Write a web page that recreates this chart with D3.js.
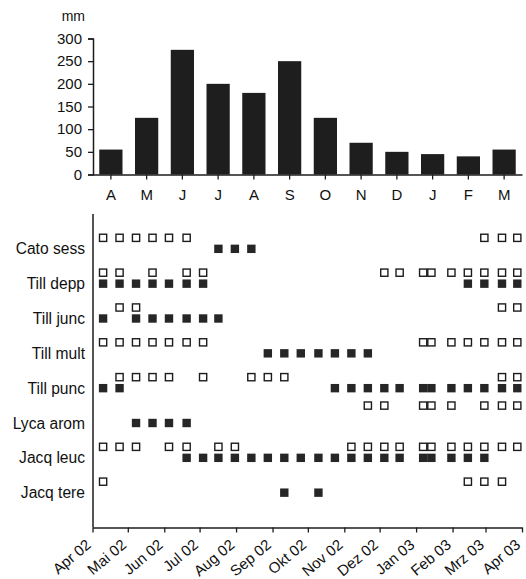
<!DOCTYPE html>
<html>
<head>
<meta charset="utf-8">
<script src="https://cdn.jsdelivr.net/npm/d3@7"></script>
<style>
  html, body { margin: 0; padding: 0; background: #fff; }
  svg { display: block; }
  text { font-family: "Liberation Sans", Arial, Helvetica, sans-serif; fill: #111; }
</style>
</head>
<body>
<svg id="chart" width="526" height="579"></svg>
<script>
// ---- Rainfall (top panel) ----
const rainMonths = ["A","M","J","J","A","S","O","N","D","J","F","M"];
const rainValues = [55, 125, 275, 200, 180, 250, 125, 70, 50, 45, 40, 55];
const rainTicks = [0, 50, 100, 150, 200, 250, 300];

// ---- Phenology (bottom panel) ----
const sampleDates = ["2002-04-10","2002-04-24","2002-05-08","2002-05-22","2002-06-05","2002-06-20",
  "2002-07-04","2002-07-17","2002-07-31","2002-08-14","2002-08-28","2002-09-11","2002-09-25",
  "2002-10-10","2002-10-24","2002-11-07","2002-11-21","2002-12-05","2002-12-18","2003-01-07",
  "2003-01-14","2003-01-31","2003-02-14","2003-02-28","2003-03-15","2003-03-28"];
const species = ["Cato sess","Till depp","Till junc","Till mult","Till punc","Lyca arom","Jacq leuc","Jacq tere"];
// indices into sampleDates
const openMarks = [
  [0,1,2,3,4,5,23,24,25],
  [0,1,3,5,6,17,18,19,20,21,22,23,24,25],
  [1,2,24,25],
  [0,1,2,3,4,5,6,19,20,21,22,23,24,25],
  [1,2,3,4,6,9,10,11,24,25],
  [],
  [0,1,2,4,5,7,8,15,16,17,18,19,20,21,22,23,24,25],
  [0,22,23,24]
];
const filledMarks = [
  [7,8,9],
  [0,1,2,3,4,5,6,22,23,24,25],
  [0,2,3,4,5,6,7],
  [10,11,12,13,14,15,16],
  [0,1,14,15,16,17,18,19,20,21,22,23,24,25],
  [2,3,4,5],
  [5,6,7,8,9,10,11,12,13,14,15,16,17,18,19,20,21,22,23],
  [11,13]
];
// extra open row drawn between Till punc and Lyca arom
const extraOpenSpecies = 4;
const extraOpenMarks = [16,17,19,20,21,23,24,25];
const monthTickLabels = ["Apr 02","Mai 02","Jun 02","Jul 02","Aug 02","Sep 02","Okt 02","Nov 02","Dez 02","Jan 03","Feb 03","Mrz 03","Apr 03"];

const svg = d3.select("#chart");
const ink = "#1c1c1c";

// ================= TOP PANEL =================
const xBand = d3.scaleBand().domain(d3.range(rainMonths.length)).range([93, 522])
  .paddingInner(0.35).paddingOuter(0.175);
const yRain = d3.scaleLinear().domain([0, 300]).range([174.5, 38.5]);

svg.append("g").selectAll("rect").data(rainValues).join("rect")
  .attr("x", (d, i) => xBand(i))
  .attr("width", xBand.bandwidth())
  .attr("y", d => yRain(d))
  .attr("height", d => yRain(0) - yRain(d))
  .attr("fill", "#1e1e1e");

const yAxisTop = svg.append("g").attr("transform", "translate(93,0)")
  .call(d3.axisLeft(yRain).tickValues(rainTicks).tickSize(5).tickPadding(6));
yAxisTop.select(".domain").attr("stroke", ink).attr("stroke-width", 1.5);
yAxisTop.selectAll(".tick line").attr("stroke", ink).attr("stroke-width", 1.3);
yAxisTop.selectAll(".tick text").attr("font-size", 15).attr("fill", "#111")
  .attr("font-family", '"Liberation Sans", Arial, sans-serif');

const xAxisTop = svg.append("g").attr("transform", "translate(0,174.5)")
  .call(d3.axisBottom(xBand).tickSize(5).tickSizeOuter(0).tickPadding(10).tickFormat(i => rainMonths[i]));
xAxisTop.select(".domain").attr("stroke", ink).attr("stroke-width", 1.5);
xAxisTop.selectAll(".tick line").attr("stroke", ink).attr("stroke-width", 1.3);
xAxisTop.selectAll(".tick text").attr("font-size", 15).attr("fill", "#111")
  .attr("font-family", '"Liberation Sans", Arial, sans-serif');

svg.append("text").attr("x", 85).attr("y", 21).attr("text-anchor", "end")
  .attr("font-size", 14).text("mm");

// ================= BOTTOM PANEL =================
const parse = d3.timeParse("%Y-%m-%d");
const xTime = d3.scaleTime().domain([new Date(2002, 3, 1), new Date(2003, 3, 1)]).range([92.5, 522]);
const yRow = d3.scaleLinear().domain([-1, 8]).range([214, 527.5]);
const openOffset = -0.316;
const sq = 7.2;

// y axis line
svg.append("line").attr("x1", 93).attr("x2", 93).attr("y1", yRow(-1)).attr("y2", yRow(8))
  .attr("stroke", ink).attr("stroke-width", 1.5);

// species labels
svg.append("g").selectAll("text").data(species).join("text")
  .attr("x", 85).attr("y", (d, i) => yRow(i)).attr("dy", "0.36em")
  .attr("text-anchor", "end").attr("font-size", 15.6).text(d => d);

// marks
const openData = [];
openMarks.forEach((arr, s) => arr.forEach(k => openData.push({ d: parse(sampleDates[k]), r: s + openOffset })));
extraOpenMarks.forEach(k => openData.push({ d: parse(sampleDates[k]), r: extraOpenSpecies + 0.5 }));
const filledData = [];
filledMarks.forEach((arr, s) => arr.forEach(k => filledData.push({ d: parse(sampleDates[k]), r: s })));

svg.append("g").selectAll("rect").data(openData).join("rect")
  .attr("x", p => xTime(p.d) - sq / 2).attr("y", p => yRow(p.r) - sq / 2)
  .attr("width", sq).attr("height", sq)
  .attr("fill", "#fff").attr("stroke", ink).attr("stroke-width", 1.4);

svg.append("g").selectAll("rect").data(filledData).join("rect")
  .attr("x", p => xTime(p.d) - (sq + 1.2) / 2).attr("y", p => yRow(p.r) - (sq + 1.2) / 2)
  .attr("width", sq + 1.2).attr("height", sq + 1.2)
  .attr("fill", "#262626");

// bottom time axis
const xAxisBottom = svg.append("g").attr("transform", `translate(0,${yRow(8)})`)
  .call(d3.axisBottom(xTime).ticks(d3.timeMonth.every(1)).tickSize(5).tickSizeOuter(0)
    .tickFormat((d, i) => monthTickLabels[i]));
xAxisBottom.select(".domain").attr("stroke", ink).attr("stroke-width", 1.5);
xAxisBottom.selectAll(".tick line").attr("stroke", ink).attr("stroke-width", 1.3);
xAxisBottom.selectAll(".tick text")
  .attr("font-size", 15).attr("fill", "#111")
  .attr("font-family", '"Liberation Sans", Arial, sans-serif')
  .attr("text-anchor", "end")
  .attr("dy", null).attr("y", null)
  .attr("transform", "translate(-1,19) rotate(-40)");
</script>
</body>
</html>
